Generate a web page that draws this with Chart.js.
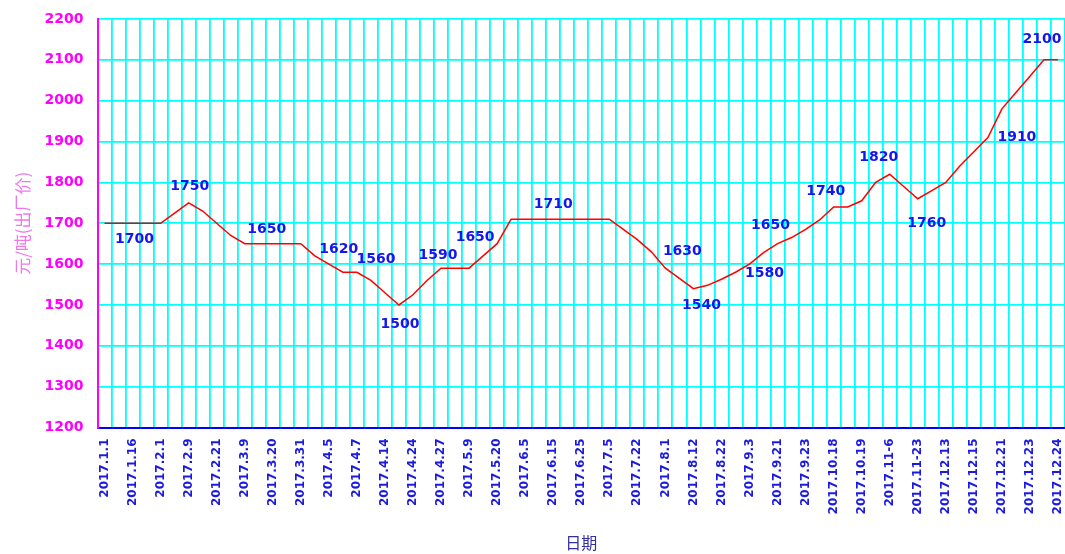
<!DOCTYPE html>
<html>
<head>
<meta charset="utf-8">
<script src="https://cdn.jsdelivr.net/npm/chart.js@4.4.0/dist/chart.umd.min.js"></script>
<style>
  html, body { margin: 0; padding: 0; background: #fff; overflow: hidden; }
  #wrap { width: 1065px; height: 554px; }
</style>
</head>
<body>
<div id="wrap"><canvas id="price-chart"></canvas></div>
<script>
// tick labels, one every 2nd category
const dateLabels = [
    '2017.1.1', '2017.1.16', '2017.2.1', '2017.2.9', '2017.2.21', '2017.3.9', '2017.3.20',
    '2017.3.31', '2017.4.5', '2017.4.7', '2017.4.14', '2017.4.24', '2017.4.27', '2017.5.9',
    '2017.5.20', '2017.6.5', '2017.6.15', '2017.6.25', '2017.7.5', '2017.7.22', '2017.8.1',
    '2017.8.12', '2017.8.22', '2017.9.3', '2017.9.21', '2017.9.23', '2017.10.18', '2017.10.19',
    '2017.11-6', '2017.11-23', '2017.12.13', '2017.12.15', '2017.12.21', '2017.12.23', '2017.12.24'
];

// 元/吨 出厂价, one value per category
const prices = [
    1700, 1700, 1700, 1700, 1700, 1725, 1750, 1730, 1700, 1670,
    1650, 1650, 1650, 1650, 1650, 1620, 1600, 1580, 1580, 1560,
    1530, 1500, 1525, 1560, 1590, 1590, 1590, 1620, 1650, 1710,
    1710, 1710, 1710, 1710, 1710, 1710, 1710, 1685, 1660, 1630,
    1590, 1565, 1540, 1548, 1563, 1580, 1600, 1628, 1650, 1665,
    1685, 1708, 1740, 1740, 1755, 1800, 1820, 1790, 1760, 1780,
    1800, 1840, 1875, 1910, 1980, 2020, 2060, 2100, 2100
];

// which points carry a value label
const labelAt = [2, 6, 11, 15, 19, 21, 24, 28, 32, 39, 42, 45, 48, 52, 56, 58, 63, 67];

const yTicks = { min: 1200, max: 2200, step: 100 };

// label nudges (px) relative to the point, same order as labelAt
const labelNudge = [
    [2, 16], [1, -16], [8, -14], [24, -7], [5, -21], [1, 19], [-3, -13], [-22, -6], [0, -15],
    [31, 0], [8, 17], [29, 1], [-7, -18], [-8, -16], [-11, -17], [9, 25], [29, 0], [-2, -20]
];

const categories = prices.map((_, i) => (i % 2 === 0 ? dateLabels[i / 2] : ''));

// 数据标签
const pointLabelPlugin = {
    id: 'pointLabelPlugin',
    afterDatasetsDraw(chart, args, options) {
        const { ctx } = chart;
        const meta = chart.getDatasetMeta(0);
        const values = chart.data.datasets[0].data;
        ctx.save();
        ctx.font = options.font;
        ctx.fillStyle = options.color;
        ctx.textAlign = 'center';
        ctx.textBaseline = 'middle';
        labelAt.forEach((idx, n) => {
            const pt = meta.data[idx];
            const [dx, dy] = options.nudge[n];
            ctx.fillText(String(values[idx]), pt.x + dx, pt.y + dy);
        });
        ctx.restore();
    }
};

const bgPlugin = {
    id: 'bgPlugin',
    beforeDraw(chart) {
        const { ctx } = chart;
        ctx.save();
        ctx.fillStyle = '#ffffff';
        ctx.fillRect(0, 0, chart.width, chart.height);
        ctx.restore();
    }
};

new Chart(document.getElementById('price-chart'), {
    type: 'line',
    data: {
        labels: categories,
        datasets: [{
            data: prices,
            borderColor: '#ff0000',
            borderWidth: 1.5,
            pointRadius: 0,
            tension: 0,
            fill: false
        }]
    },
    options: {
        responsive: true,
        maintainAspectRatio: false,
        animation: false,
        // plot runs a little past the right edge, as in the cropped original
        layout: { autoPadding: false, padding: { top: 19, right: -5.5, left: 0, bottom: 0 } },
        plugins: {
            legend: { display: false },
            tooltip: { enabled: false },
            pointLabelPlugin: {
                font: 'bold 14px "DejaVu Sans"',
                color: '#1515ee',
                nudge: labelNudge
            }
        },
        scales: {
            x: {
                offset: true,
                grid: { offset: true, color: '#00ffff', lineWidth: 1.8, drawTicks: false },
                border: { color: '#0000ff', width: 2 },
                ticks: {
                    autoSkip: false,
                    maxRotation: 90,
                    minRotation: 90,
                    padding: 11,
                    color: '#1a1ae0',
                    font: { family: 'DejaVu Sans', size: 12, weight: 'bold' }
                },
                title: {
                    display: true,
                    text: '日期',
                    color: '#3030a0',
                    font: { family: 'Noto Sans CJK SC', size: 16, lineHeight: 1 },
                    padding: { top: 0, bottom: 3 }
                },
                afterFit(scale) {
                    scale.height = 126.5;
                    scale.paddingLeft = 0;
                    scale.paddingRight = 0;
                }
            },
            y: {
                min: yTicks.min,
                max: yTicks.max,
                grid: { color: '#00ffff', lineWidth: 1.8, drawTicks: false },
                border: { color: '#ff00ff', width: 2 },
                ticks: {
                    stepSize: yTicks.step,
                    padding: 14,
                    color: '#ff00ff',
                    font: { family: 'DejaVu Sans', size: 14, weight: 'bold' },
                    callback: (v) => String(v)
                },
                title: {
                    display: true,
                    text: '元/吨(出厂价)',
                    color: '#ee77ee',
                    font: { family: 'Noto Sans CJK SC', size: 17, lineHeight: 1 },
                    padding: { top: 14, bottom: 0 }
                },
                afterFit(scale) {
                    scale.width = 97.5;
                    scale.paddingTop = 0;
                    scale.paddingBottom = 0;
                }
            }
        }
    },
    plugins: [bgPlugin, pointLabelPlugin]
});
</script>
</body>
</html>
